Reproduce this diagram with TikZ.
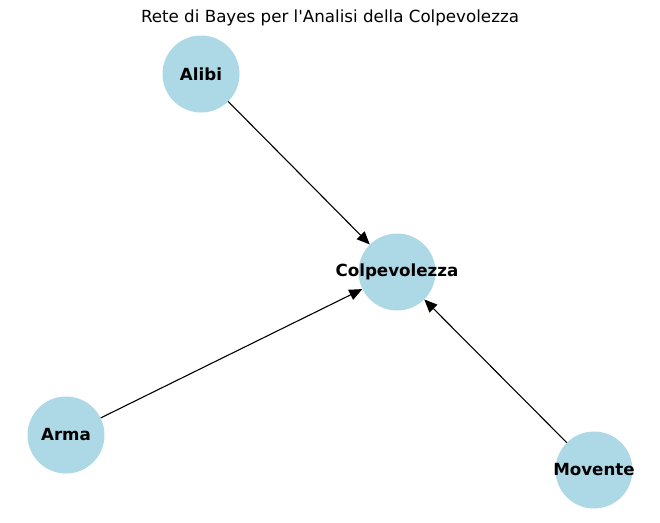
\documentclass[tikz,border=0pt]{standalone}
\usepackage{fontspec}
\setmainfont{DejaVu Sans}
\newfontfamily\plainfont{DejaVu Sans}
\usetikzlibrary{arrows.meta}
\definecolor{nodeblue}{HTML}{ADD8E6}
\tikzset{
  bnode/.style={circle, fill=nodeblue, draw=none, minimum size=77pt, inner sep=0pt},
  blabel/.style={font=\fontsize{16.7}{20}\selectfont\bfseries, inner sep=0pt},
  edge/.style={-{Triangle[length=13pt,width=11pt]}, line width=1.1pt, black}
}
\begin{document}
\begin{tikzpicture}[x=1pt,y=-1pt]
\useasboundingbox (0,0) rectangle (660,522);
\node[font=\plainfont\fontsize{16.7}{20}\selectfont] (title) at (330,18) {Rete di Bayes per l'Analisi della Colpevolezza};
\node[bnode] (alibi) at (201,74) {};
\node[bnode] (colp) at (397,272) {};
\node[bnode] (arma) at (66,435) {};
\node[bnode] (movente) at (594,470) {};
\node[blabel] (alibiT) at (alibi.center) {Alibi};
\node[blabel] (colpT) at (colp.center) {Colpevolezza};
\node[blabel] (armaT) at (arma.center) {Arma};
\node[blabel] (moventeT) at (movente.center) {Movente};
\draw[edge] (alibi) -- (colp);
\draw[edge] (arma) -- (colp);
\draw[edge] (movente) -- (colp);
\end{tikzpicture}
\end{document}
